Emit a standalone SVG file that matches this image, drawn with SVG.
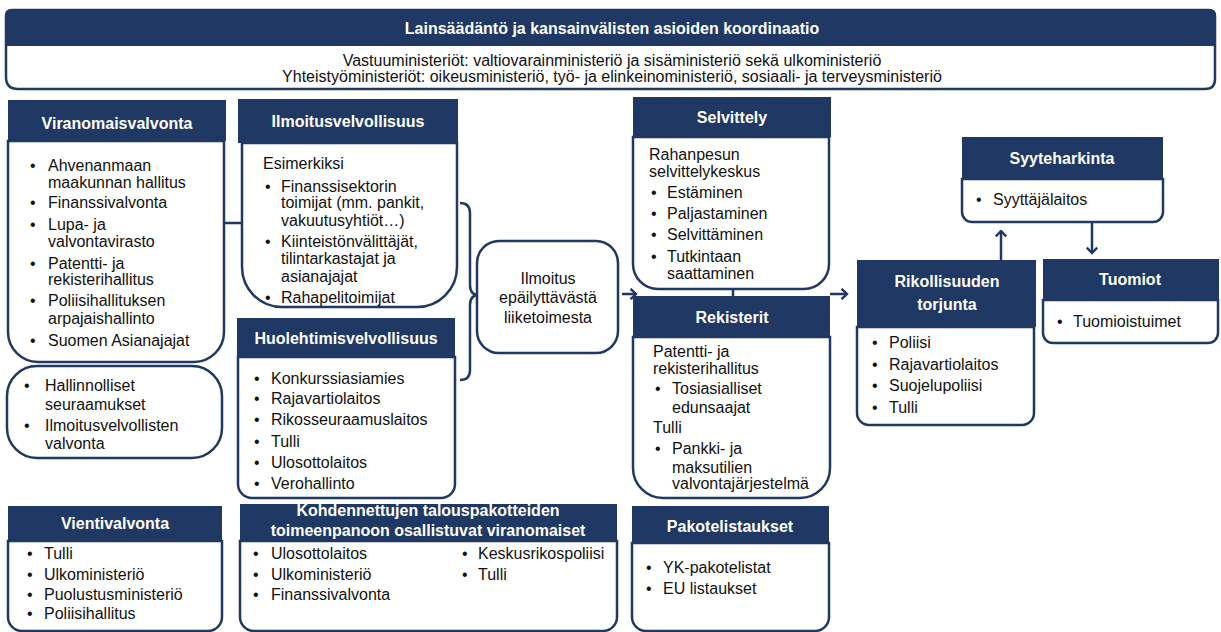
<svg xmlns="http://www.w3.org/2000/svg" width="1221" height="632" viewBox="0 0 1221 632">
<defs>
<style>
.hd{fill:#1F3864}
.bd{fill:#fff;stroke:#1F3864;stroke-width:2.5}
.t{font-family:"Liberation Sans",Arial,sans-serif;font-size:16px;fill:#111}
.c{text-anchor:middle}
.h{font-family:"Liberation Sans",Arial,sans-serif;font-size:16px;font-weight:bold;fill:#fff;text-anchor:middle}
.ln{stroke:#1F3864;stroke-width:2.5;fill:none}
</style>
<marker id="ah" viewBox="0 0 12 12" refX="10.5" refY="6" markerWidth="12" markerHeight="12" orient="auto" markerUnits="userSpaceOnUse">
<path d="M5,0.8 L10.5,6 L5,11.2" fill="none" stroke="#1F3864" stroke-width="2.4"/>
</marker>
</defs>
<rect width="1221" height="632" fill="#fff"/>

<g id="banner">
<path class="bd" d="M6,16 Q6,10 12,10 H1209 Q1215,10 1215,16 V79 Q1215,89 1205,89 H18 Q6,89 6,77 Z"/>
<path class="hd" d="M6,16 Q6,10 12,10 H1209 Q1215,10 1215,16 V46 H6 Z"/>
<text class="h" x="612" y="34">Lainsäädäntö ja kansainvälisten asioiden koordinaatio</text>
<text class="t c" x="612" y="66">Vastuuministeriöt: valtiovarainministeriö ja sisäministeriö sekä ulkoministeriö</text>
<text class="t c" x="612" y="82">Yhteistyöministeriöt: oikeusministeriö, työ- ja elinkeinoministeriö, sosiaali- ja terveysministeriö</text>
</g>

<g id="connectors">
<line class="ln" x1="224" y1="223" x2="242" y2="223"/>
<line class="ln" x1="733" y1="289" x2="733" y2="296"/>
<path class="ln" stroke-width="2" d="M460,203 Q470,203 470,213 L470,285 Q470,295 479,295 Q470,295 470,305 L470,370 Q470,380 460,380"/>
<line class="ln" x1="622" y1="294" x2="636" y2="294" marker-end="url(#ah)"/>
<line class="ln" x1="830" y1="294" x2="847" y2="294" marker-end="url(#ah)"/>
<line class="ln" x1="1001" y1="260" x2="1001" y2="231" marker-end="url(#ah)"/>
<line class="ln" x1="1092" y1="222" x2="1092" y2="253" marker-end="url(#ah)"/>
</g>

<g id="viranomaisvalvonta">
<path class="bd" d="M8,141 H224 V332 A30,30 0 0 1 194,362 H38 A30,30 0 0 1 8,332 Z"/>
<rect class="hd" x="8" y="100" width="218" height="41"/>
<text class="h" x="117" y="129">Viranomaisvalvonta</text>
<g class="t">
<text x="30" y="171">•</text><text x="48" y="171">Ahvenanmaan</text>
<text x="48" y="188">maakunnan hallitus</text>
<text x="30" y="208">•</text><text x="48" y="208">Finanssivalvonta</text>
<text x="30" y="230">•</text><text x="48" y="230">Lupa- ja</text>
<text x="48" y="247">valvontavirasto</text>
<text x="30" y="269">•</text><text x="48" y="269">Patentti- ja</text>
<text x="48" y="285">rekisterihallitus</text>
<text x="30" y="306">•</text><text x="48" y="306">Poliisihallituksen</text>
<text x="48" y="324">arpajaishallinto</text>
<text x="30" y="346">•</text><text x="48" y="346">Suomen Asianajajat</text>
</g>
</g>

<g id="seuraamukset">
<rect class="bd" x="7" y="366" width="215" height="92" rx="30"/>
<g class="t">
<text x="24" y="391">•</text><text x="45" y="391">Hallinnolliset</text>
<text x="45" y="410">seuraamukset</text>
<text x="24" y="431">•</text><text x="45" y="431">Ilmoitusvelvollisten</text>
<text x="45" y="449">valvonta</text>
</g>
</g>

<g id="ilmoitusvelvollisuus">
<path class="bd" d="M242,143 H457 V267 A40,40 0 0 1 417,307 H282 A40,40 0 0 1 242,267 Z"/>
<rect class="hd" x="238" y="99" width="220" height="44"/>
<text class="h" x="348" y="127">Ilmoitusvelvollisuus</text>
<g class="t">
<text x="263" y="169">Esimerkiksi</text>
<text x="265" y="192">•</text><text x="281" y="192">Finanssisektorin</text>
<text x="281" y="208">toimijat (mm. pankit,</text>
<text x="281" y="226">vakuutusyhtiöt…)</text>
<text x="265" y="247">•</text><text x="281" y="247">Kiinteistönvälittäjät,</text>
<text x="281" y="264">tilintarkastajat ja</text>
<text x="281" y="282">asianajajat</text>
<text x="265" y="303">•</text><text x="281" y="303">Rahapelitoimijat</text>
</g>
</g>

<g id="huolehtimisvelvollisuus">
<path class="bd" d="M238,357 H455 V484 A14,14 0 0 1 441,498 H252 A14,14 0 0 1 238,484 Z"/>
<rect class="hd" x="237" y="318" width="218" height="39"/>
<text class="h" x="346" y="344">Huolehtimisvelvollisuus</text>
<g class="t">
<text x="254" y="384">•</text><text x="271" y="384">Konkurssiasiamies</text>
<text x="254" y="404">•</text><text x="271" y="404">Rajavartiolaitos</text>
<text x="254" y="425">•</text><text x="271" y="425">Rikosseuraamuslaitos</text>
<text x="254" y="447">•</text><text x="271" y="447">Tulli</text>
<text x="254" y="468">•</text><text x="271" y="468">Ulosottolaitos</text>
<text x="254" y="489">•</text><text x="271" y="489">Verohallinto</text>
</g>
</g>

<g id="ilmoitus">
<rect class="bd" x="477" y="241" width="141" height="112" rx="22"/>
<g class="t c">
<text x="548" y="284">Ilmoitus</text>
<text x="548" y="303">epäilyttävästä</text>
<text x="548" y="323">liiketoimesta</text>
</g>
</g>

<g id="selvittely">
<path class="bd" d="M633,137 H829 V264 A25,25 0 0 1 804,289 H658 A25,25 0 0 1 633,264 Z"/>
<rect class="hd" x="633" y="97" width="198" height="40"/>
<text class="h" x="732" y="123">Selvittely</text>
<g class="t">
<text x="649" y="160">Rahanpesun</text>
<text x="649" y="177">selvittelykeskus</text>
<text x="651" y="198">•</text><text x="667" y="198">Estäminen</text>
<text x="651" y="219">•</text><text x="667" y="219">Paljastaminen</text>
<text x="651" y="240">•</text><text x="667" y="240">Selvittäminen</text>
<text x="651" y="262">•</text><text x="667" y="262">Tutkintaan</text>
<text x="667" y="279">saattaminen</text>
</g>
</g>

<g id="rekisterit">
<path class="bd" d="M633,337 H830 V468 A30,30 0 0 1 800,498 H663 A30,30 0 0 1 633,468 Z"/>
<rect class="hd" x="633" y="296" width="197" height="41"/>
<text class="h" x="732" y="323">Rekisterit</text>
<g class="t">
<text x="653" y="357">Patentti- ja</text>
<text x="653" y="374">rekisterihallitus</text>
<text x="655" y="394">•</text><text x="672" y="394">Tosiasialliset</text>
<text x="672" y="413">edunsaajat</text>
<text x="653" y="433">Tulli</text>
<text x="655" y="454">•</text><text x="672" y="454">Pankki- ja</text>
<text x="672" y="473">maksutilien</text>
<text x="672" y="489">valvontajärjestelmä</text>
</g>
</g>

<g id="pakotelistaukset">
<path class="bd" d="M632,543 H829 V617 A14,14 0 0 1 815,631 H646 A14,14 0 0 1 632,617 Z"/>
<rect class="hd" x="632" y="506" width="197" height="37"/>
<text class="h" x="730" y="532">Pakotelistaukset</text>
<g class="t">
<text x="646" y="573">•</text><text x="663" y="573">YK-pakotelistat</text>
<text x="646" y="594">•</text><text x="663" y="594">EU listaukset</text>
</g>
</g>

<g id="vientivalvonta">
<path class="bd" d="M8,541 H222 V617 A14,14 0 0 1 208,631 H22 A14,14 0 0 1 8,617 Z"/>
<rect class="hd" x="8" y="506" width="214" height="35"/>
<text class="h" x="115" y="529">Vientivalvonta</text>
<g class="t">
<text x="27" y="559">•</text><text x="44" y="559">Tulli</text>
<text x="27" y="580">•</text><text x="44" y="580">Ulkoministeriö</text>
<text x="27" y="600">•</text><text x="44" y="600">Puolustusministeriö</text>
<text x="27" y="619">•</text><text x="44" y="619">Poliisihallitus</text>
</g>
</g>

<g id="kohdennettujen">
<path class="bd" d="M240,541 H617 V617 A14,14 0 0 1 603,631 H254 A14,14 0 0 1 240,617 Z"/>
<rect class="hd" x="240" y="504" width="377" height="37"/>
<text class="h" x="428" y="516">Kohdennettujen talouspakotteiden</text>
<text class="h" x="428" y="536">toimeenpanoon osallistuvat viranomaiset</text>
<g class="t">
<text x="253" y="559">•</text><text x="271" y="559">Ulosottolaitos</text>
<text x="253" y="580">•</text><text x="271" y="580">Ulkoministeriö</text>
<text x="253" y="600">•</text><text x="271" y="600">Finanssivalvonta</text>
<text x="462" y="559">•</text><text x="478" y="559">Keskusrikospoliisi</text>
<text x="462" y="580">•</text><text x="478" y="580">Tulli</text>
</g>
</g>

<g id="syyteharkinta">
<path class="bd" d="M962,179 H1163 V212 A10,10 0 0 1 1153,222 H972 A10,10 0 0 1 962,212 Z"/>
<rect class="hd" x="962" y="137" width="201" height="42"/>
<text class="h" x="1062" y="164">Syyteharkinta</text>
<g class="t">
<text x="976" y="205">•</text><text x="993" y="205">Syyttäjälaitos</text>
</g>
</g>

<g id="rikollisuuden">
<path class="bd" d="M857,327 H1034 V413 A12,12 0 0 1 1022,425 H869 A12,12 0 0 1 857,413 Z"/>
<rect class="hd" x="857" y="260" width="179" height="67"/>
<text class="h" x="947" y="287">Rikollisuuden</text>
<text class="h" x="947" y="310">torjunta</text>
<g class="t">
<text x="872" y="348">•</text><text x="889" y="348">Poliisi</text>
<text x="872" y="370">•</text><text x="889" y="370">Rajavartiolaitos</text>
<text x="872" y="391">•</text><text x="889" y="391">Suojelupoliisi</text>
<text x="872" y="413">•</text><text x="889" y="413">Tulli</text>
</g>
</g>

<g id="tuomiot">
<path class="bd" d="M1043,300 H1218 V333 A10,10 0 0 1 1208,343 H1053 A10,10 0 0 1 1043,333 Z"/>
<rect class="hd" x="1043" y="259" width="176" height="41"/>
<text class="h" x="1130" y="285">Tuomiot</text>
<g class="t">
<text x="1057" y="327">•</text><text x="1073" y="327">Tuomioistuimet</text>
</g>
</g>
</svg>
